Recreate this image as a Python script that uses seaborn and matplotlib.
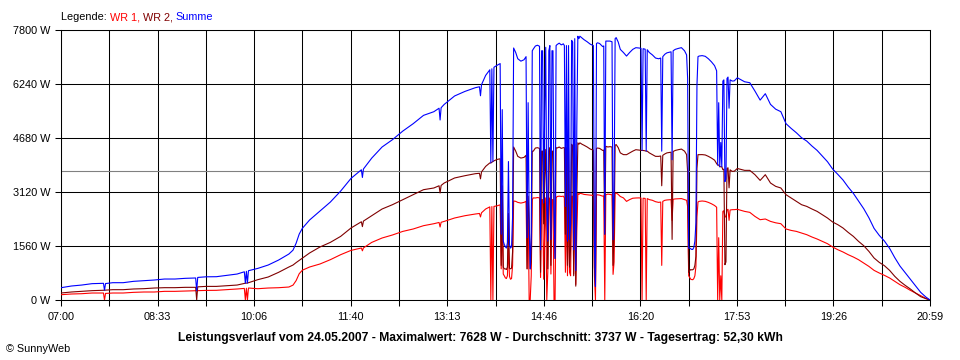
import numpy as np
import pandas as pd
import seaborn as sns
import matplotlib.pyplot as plt

# Sample times (HH:MM) and power per inverter in W
times = [
    "07:00", "07:10", "07:20", "07:30", "07:40", "07:41", "07:42", "07:43", "07:50",
    "08:00", "08:10", "08:20", "08:30", "08:40", "08:50",
    "09:00", "09:10", "09:11", "09:12", "09:20", "09:30", "09:40", "09:50",
    "09:57", "09:58", "09:59", "10:00", "10:01",
    "10:10", "10:20", "10:30", "10:40", "10:44", "10:47", "10:50", "10:53",
    "11:00", "11:10", "11:20", "11:30", "11:40", "11:50", "11:51", "11:52",
    "12:00", "12:10", "12:20", "12:30", "12:40", "12:50",
    "13:00", "13:05", "13:06", "13:07", "13:10", "13:20", "13:30", "13:40",
    "13:44", "13:45", "13:46", "13:50", "13:54", "13:55", "13:56", "13:57", "13:58",
    "14:01", "14:04", "14:05", "14:06", "14:07", "14:08", "14:09", "14:10",
    "14:11", "14:12", "14:13", "14:14", "14:15", "14:16", "14:17", "14:19",
    "14:21", "14:24", "14:27", "14:29", "14:30", "14:31", "14:32", "14:33",
    "14:34", "14:35", "14:36", "14:38", "14:40", "14:42", "14:43", "14:44",
    "14:45", "14:46", "14:47", "14:48", "14:49", "14:50", "14:51", "14:52",
    "14:53", "14:54", "14:55", "14:56", "14:57", "14:58", "14:59",
    "15:01", "15:03", "15:05", "15:06", "15:07", "15:08", "15:09", "15:10",
    "15:11", "15:12", "15:13", "15:14", "15:15", "15:16", "15:17", "15:18",
    "15:19", "15:20", "15:21", "15:23", "15:25", "15:28", "15:31", "15:34",
    "15:35", "15:36", "15:37", "15:38", "15:40", "15:43", "15:44", "15:45",
    "15:46", "15:48", "15:50", "15:52", "15:53", "15:54", "15:55", "15:56",
    "15:58", "16:00", "16:03", "16:06", "16:09", "16:12", "16:15", "16:18",
    "16:20", "16:21", "16:22", "16:24", "16:25", "16:26", "16:28", "16:31",
    "16:34", "16:37", "16:39", "16:40", "16:41", "16:43", "16:45", "16:49",
    "16:50", "16:51", "16:53", "16:56", "16:59", "17:02", "17:04", "17:05",
    "17:06", "17:07", "17:08", "17:09", "17:10", "17:11", "17:12", "17:13",
    "17:14", "17:15", "17:16", "17:19", "17:22", "17:25", "17:28", "17:31",
    "17:33", "17:34", "17:35", "17:36", "17:37", "17:38", "17:39", "17:40",
    "17:41", "17:42", "17:43", "17:44", "17:45", "17:46", "17:48", "17:50",
    "17:53", "18:00", "18:05", "18:10", "18:15", "18:20", "18:25", "18:30",
    "18:35", "18:40", "18:45", "18:50", "18:55", "19:00", "19:05", "19:10",
    "19:15", "19:20", "19:25", "19:30", "19:35", "19:40", "19:45", "19:50",
    "19:55", "20:00", "20:05", "20:10", "20:15", "20:20", "20:25", "20:30",
    "20:35", "20:40", "20:45", "20:50", "20:55", "20:59",
]

wr1 = [
    153, 173, 182, 202, 202, 202, 0, 190, 202,
    202, 221, 231, 231, 250, 250,
    260, 270, 270, 272, 277, 280, 298, 318,
    335, 0, 340, 0, 346,
    326, 346, 355, 375, 430, 560, 760, 860,
    953, 1040, 1164, 1309, 1433, 1502, 1420, 1505,
    1664, 1791, 1878, 1982, 2051, 2147,
    2204, 2240, 2109, 2245, 2271, 2369, 2435, 2484,
    2500, 2400, 2520, 2629, 2690, 0, 2700, 0, 2704,
    2720, 2750, 900, 2200, 750, 700, 640, 620,
    700, 1500, 680, 600, 620, 1000, 2860, 2850,
    2820, 2800, 2820, 2850, 900, 2700, 0, 0,
    700, 2900, 2950, 2947, 2960, 2950, 650, 2900,
    2900, 600, 2000, 2950, 0, 800, 2900, 2950,
    750, 2900, 2900, 0, 0, 2950, 2990,
    3000, 2990, 3000, 2950, 800, 2950, 700, 2950,
    800, 700, 3000, 3000, 750, 3050, 450, 2000,
    3080, 3050, 3080, 3070, 3050, 3040, 3030, 3020,
    700, 0, 3030, 3040, 3030, 3000, 3010, 0,
    3040, 3060, 3050, 3040, 740, 1100, 3080, 3090,
    3050, 2990, 2950, 2849, 2900, 2940, 2947, 2950,
    2945, 0, 2940, 2935, 0, 2930, 2900, 2880,
    2840, 2820, 2830, 1000, 2850, 2880, 2890, 2900,
    2300, 2910, 2920, 2926, 2930, 2900, 2880, 2700,
    700, 650, 600, 590, 586, 620, 700, 970,
    2400, 2830, 2849, 2860, 2850, 2820, 2780, 2730,
    2680, 0, 1800, 0, 700, 0, 2560, 2580,
    2400, 2400, 2600, 2620, 2300, 2600, 2609, 2610,
    2620, 2560, 2532, 2415, 2320, 2340, 2271, 2230,
    2204, 2051, 2010, 1982, 1935, 1887, 1820, 1762,
    1694, 1627, 1531, 1453, 1387, 1309, 1242, 1164,
    1069, 971, 856, 780, 712, 636, 539, 442,
    366, 279, 202, 125, 48, 0,
]

wr2 = [
    202, 231, 250, 270, 279, 280, 282, 285, 298,
    298, 318, 327, 346, 356, 356,
    366, 366, 0, 380, 393, 393, 412, 432,
    480, 485, 488, 490, 500,
    587, 664, 798, 953, 1010, 1080, 1145, 1210,
    1358, 1531, 1664, 1838, 2080, 2260, 2120, 2280,
    2435, 2629, 2753, 2898, 3042, 3187,
    3236, 3300, 3091, 3310, 3380, 3525, 3591, 3649,
    3660, 3500, 3700, 3860, 3960, 3960, 3980, 4000, 4020,
    4060, 4080, 1000, 3300, 950, 900, 900, 880,
    950, 2500, 920, 900, 920, 1400, 4420, 4300,
    4150, 4100, 4120, 4180, 900, 3000, 2320, 900,
    1100, 4300, 4300, 4390, 4400, 4380, 800, 4300,
    4300, 2200, 3500, 4350, 2700, 900, 4300, 4400,
    1000, 4300, 4300, 2600, 1200, 4400, 4390,
    4420, 4380, 4400, 4400, 1900, 4400, 1000, 4400,
    950, 1500, 4500, 4450, 700, 4500, 400, 3000,
    4540, 4500, 4540, 4500, 4470, 4420, 4360, 4330,
    950, 390, 4380, 4390, 4380, 4320, 4330, 1900,
    4440, 4420, 4430, 4420, 1000, 2000, 4470, 4490,
    4400, 4250, 4200, 4198, 4250, 4300, 4342, 4330,
    4325, 4320, 4320, 4310, 4300, 4300, 4250, 4200,
    4150, 4149, 4160, 3300, 4180, 4220, 4250, 4270,
    1750, 4290, 4320, 4342, 4360, 4300, 4200, 3700,
    800, 850, 880, 870, 876, 900, 1000, 1260,
    3800, 4200, 4198, 4200, 4190, 4150, 4100, 4040,
    3940, 3900, 3900, 3850, 3850, 3850, 3765, 3780,
    1020, 1100, 3800, 3820, 3240, 3760, 3716, 3720,
    3800, 3745, 3745, 3620, 3455, 3620, 3380, 3283,
    3236, 3042, 2946, 2849, 2753, 2704, 2629, 2560,
    2464, 2369, 2253, 2176, 2080, 1953, 1838, 1694,
    1569, 1405, 1213, 1087, 991, 856, 683, 539,
    424, 318, 202, 96, 38, 0,
]

y_ticks = [0, 1560, 3120, 4680, 6240, 7800]
x_labels = ["07:00", "08:33", "10:06", "11:40", "13:13", "14:46", "16:20", "17:53", "19:26", "20:59"]
average = 3737
caption = ("Leistungsverlauf vom 24.05.2007 - Maximalwert: 7628 W - "
           "Durchschnitt: 3737 W - Tagesertrag: 52,30 kWh")


def to_minutes(hhmm):
    h, m = hhmm.split(":")
    return int(h) * 60 + int(m) - 7 * 60


assert len(times) == len(wr1) == len(wr2)

df = pd.DataFrame({"t": [to_minutes(s) for s in times], "WR 1": wr1, "WR 2": wr2})
df["Summe"] = df["WR 1"] + df["WR 2"]

sns.set_theme(style="white")
plt.rcParams["font.family"] = ["Liberation Sans", "DejaVu Sans"]

fig = plt.figure(figsize=(9.6, 3.6), dpi=100)
ax = fig.add_axes([61 / 960, 60 / 360, 869 / 960, 270 / 360])

colors = {"WR 1": "#ff0000", "WR 2": "#800000", "Summe": "#0000ff"}
for name in ["WR 1", "WR 2", "Summe"]:
    sns.lineplot(data=df, x="t", y=name, color=colors[name], linewidth=0.8,
                 estimator=None, legend=False, ax=ax, zorder=3)

ax.axhline(average, color="#808080", linewidth=0.8, zorder=1)

span = 20 * 60 + 59 - 7 * 60
ax.set_xlim(0, span)
ax.set_ylim(0, 7800)
grid_x = np.linspace(0, span, 19)
ax.set_xticks(grid_x)
ax.set_xticklabels([x_labels[i // 2] if i % 2 == 0 else "" for i in range(19)])
ax.set_yticks(y_ticks)
ax.set_yticklabels([f"{v} W" for v in y_ticks])
ax.set_xlabel("")
ax.set_ylabel("")
ax.grid(True, color="black", linewidth=0.75)
ax.set_axisbelow(True)
for sp in ax.spines.values():
    sp.set_color("black")
    sp.set_linewidth(0.75)
ax.tick_params(axis="both", direction="out", length=4.5, width=0.75, color="black",
               labelsize=7.8, labelcolor="black")
ax.tick_params(axis="x", pad=4)
ax.tick_params(axis="y", pad=3)
ax.tick_params(bottom=True, left=True)

# coloured "legend" line above the plot
t0 = fig.text(61 / 960, 1 - 17 / 360, "Legende: ", color="black", fontsize=7.8, va="center")
t1 = ax.annotate("WR 1, ", xy=(1, 0), xycoords=t0, va="bottom", color=colors["WR 1"],
                 fontsize=7.8, annotation_clip=False)
t2 = ax.annotate("WR 2, ", xy=(1, 0), xycoords=t1, va="bottom", color=colors["WR 2"],
                 fontsize=7.8, annotation_clip=False)
ax.annotate("Summe", xy=(1, 0), xycoords=t2, va="bottom", color=colors["Summe"],
            fontsize=7.8, annotation_clip=False)

fig.text(0.5, 1 - 338 / 360, caption, ha="center", va="center", fontsize=8.7,
         fontweight="bold", color="black")
fig.text(6 / 960, 1 - 349 / 360, "© SunnyWeb", ha="left", va="center", fontsize=7.8,
         color="black")

fig.savefig("out.png", dpi=100)
